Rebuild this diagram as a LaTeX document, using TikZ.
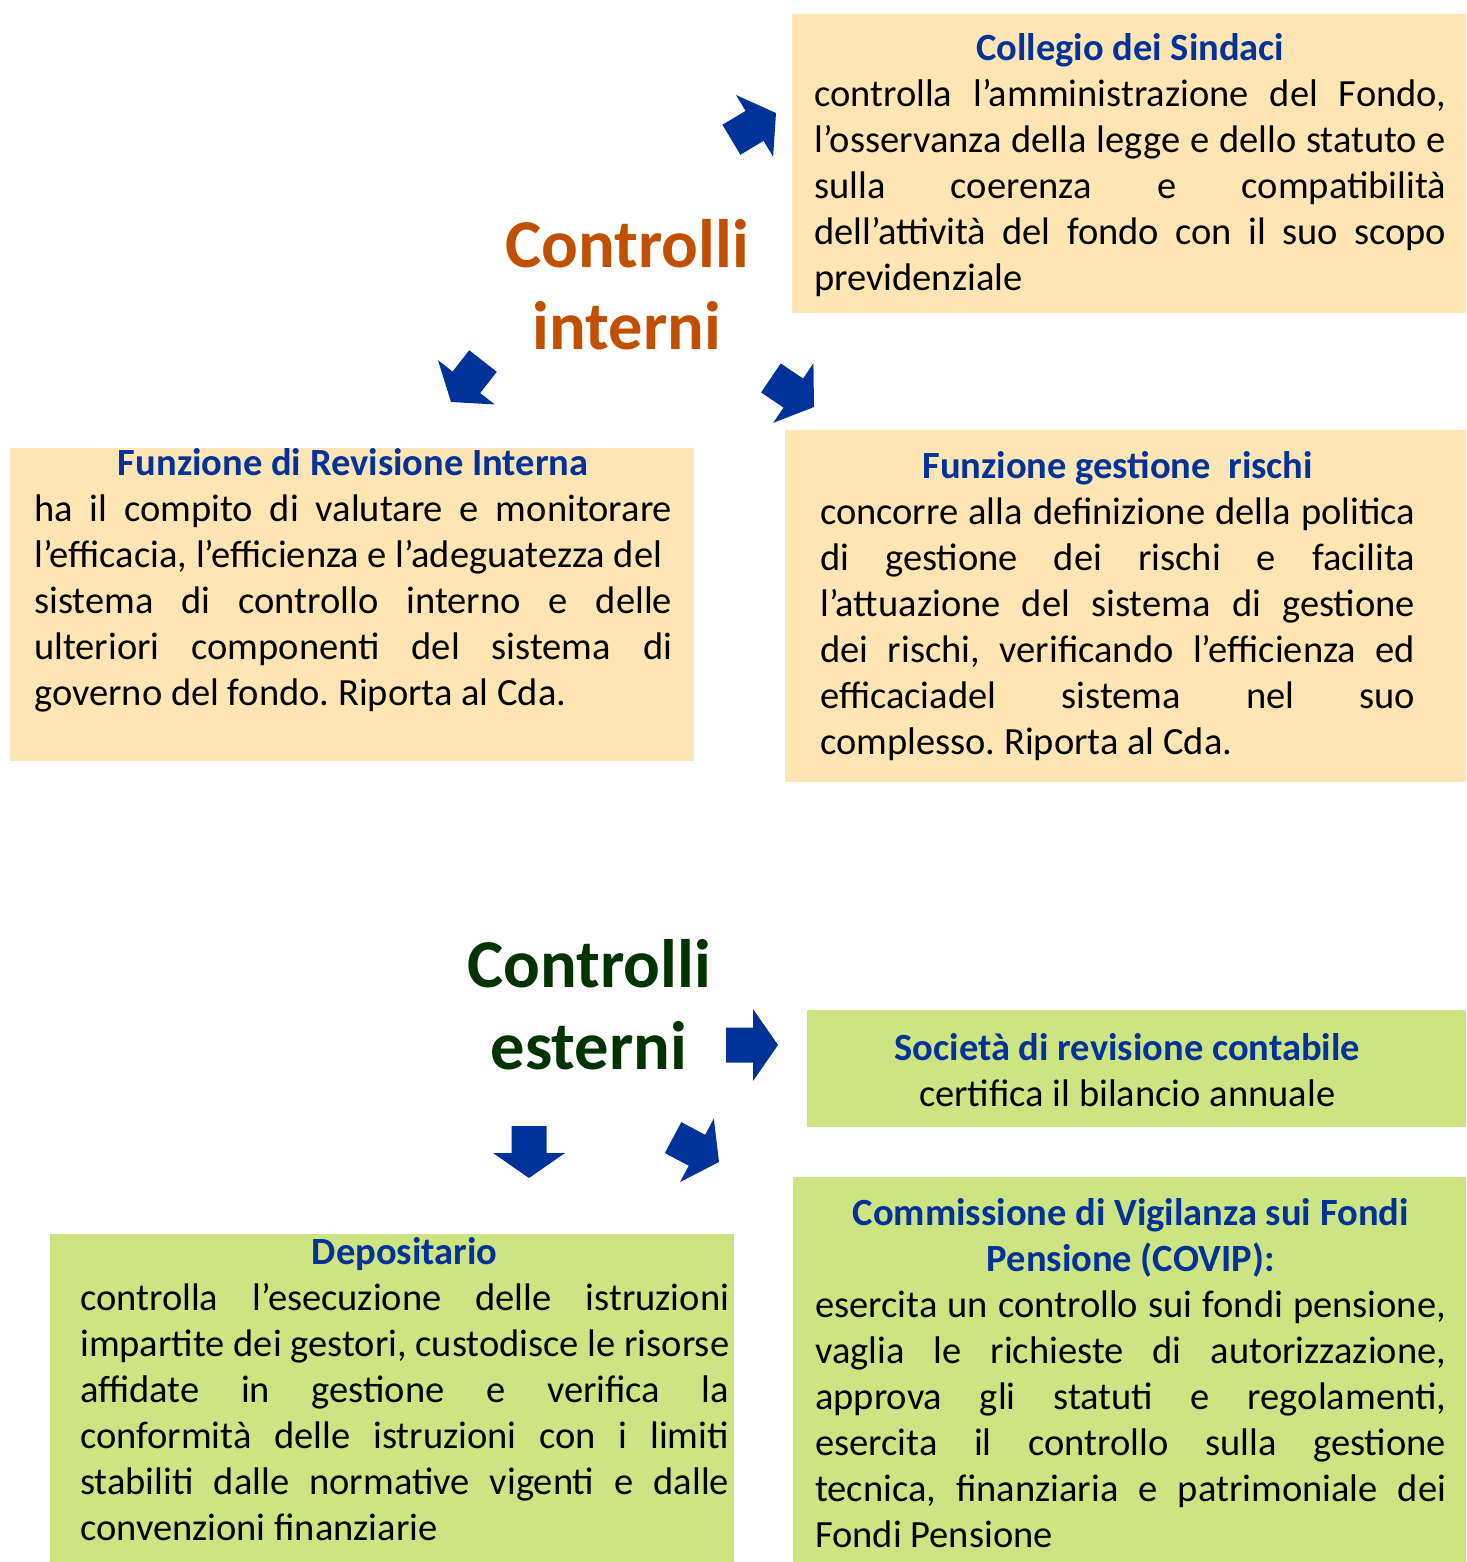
\documentclass[tikz,border=0pt]{standalone}
\usepackage{fontspec}
\setmainfont{Carlito}
\usetikzlibrary{positioning}
\definecolor{FondoBlue}{RGB}{0,51,153}
\definecolor{FondoPeach}{RGB}{255,229,180}
\definecolor{FondoLime}{RGB}{206,228,130}
\definecolor{InterniOrange}{RGB}{192,80,0}
\definecolor{EsterniGreen}{RGB}{0,51,0}
\frenchspacing
\newcommand{\boxhead}[1]{{\centering\leavevmode\strut\textcolor{FondoBlue}{\bfseries #1}\par}}

\begin{document}
\begin{tikzpicture}[x=1pt,y=1pt,
  peachbox/.style={fill=FondoPeach,anchor=north west,inner sep=0pt},
  limebox/.style={fill=FondoLime,anchor=north west,inner sep=0pt},
  bodytxt/.style={anchor=north west,inner sep=0pt,align=justify,font=\fontsize{38.5}{46}\selectfont},
  bigtitle/.style={anchor=north,inner sep=0pt,align=center,font=\fontsize{68.5}{82}\selectfont\bfseries},
  blkarrow/.pic={\fill[FondoBlue] (0,0) -- (-25,36) -- (-25,17.5) -- (-52,17.5) -- (-52,-17.5) -- (-25,-17.5) -- (-25,-36) -- cycle;}]
\useasboundingbox (0,0) rectangle (1466,-1562);

% controlli interni
\node[bigtitle,text=InterniOrange] (interni) at (627,-210) {\strut Controlli\\interni};

\node[peachbox,minimum width=674pt,minimum height=299pt] (sindacibox) at (792,-14) {};
\node[bodytxt,text width=632pt] (sindaci) at (814,-27.8) {\boxhead{Collegio dei Sindaci}
controlla l’amministrazione del Fondo,\linebreak
l’osservanza della legge e dello statuto e\linebreak
sulla coerenza e compatibilità\linebreak
dell’attività del fondo con il suo scopo\linebreak
previdenziale};

\node[peachbox,minimum width=684pt,minimum height=313pt] (revisionebox) at (10,-448) {};
\node[bodytxt,text width=638pt] (revisione) at (34,-442.8) {\boxhead{Funzione di Revisione Interna}
ha il compito di valutare e monitorare\linebreak
l’efficacia, l’efficienza e l’adeguatezza del\newline
sistema di controllo interno e delle\linebreak
ulteriori componenti del sistema di\linebreak
governo del fondo. Riporta al Cda.};

\node[peachbox,minimum width=681pt,minimum height=352pt] (rischibox) at (785,-430) {};
\node[bodytxt,text width=595pt] (rischi) at (820,-445.8) {\boxhead{Funzione gestione\ \ rischi}
concorre alla definizione della politica\linebreak
di gestione dei rischi e facilita\linebreak
l’attuazione del sistema di gestione\linebreak
dei rischi, verificando l’efficienza ed\linebreak
efficaciadel sistema nel suo\linebreak
complesso. Riporta al Cda.};

\pic[rotate=31] at (776,-113) {blkarrow};
\pic[rotate=232] at (451,-402) {blkarrow};
\pic[rotate=-34] at (814,-407) {blkarrow};

% controlli esterni
\node[bigtitle,text=EsterniGreen] (esterni) at (589,-930) {\strut Controlli\\esterni};

\node[limebox,minimum width=659pt,minimum height=117pt] (societabox) at (807,-1010) {};
\node[bodytxt,text width=640pt] (societa) at (807,-1027.8) {\boxhead{Società di revisione contabile}
{\centering certifica il bilancio annuale\par}};

\node[limebox,minimum width=673pt,minimum height=385pt] (covipbox) at (793,-1177) {};
\node[bodytxt,text width=631pt] (covip) at (815,-1192.8) {\boxhead{Commissione di Vigilanza sui Fondi\linebreak Pensione (COVIP):}
esercita un controllo sui fondi pensione,\linebreak
vaglia le richieste di autorizzazione,\linebreak
approva gli statuti e regolamenti,\linebreak
esercita il controllo sulla gestione\linebreak
tecnica, finanziaria e patrimoniale dei\linebreak
Fondi Pensione};

\node[limebox,minimum width=684pt,minimum height=328pt] (depositariobox) at (50,-1234) {};
\node[bodytxt,text width=649pt] (depositario) at (80,-1231.8) {\boxhead{Depositario}
controlla l’esecuzione delle istruzioni\linebreak
impartite dei gestori, custodisce le risorse\linebreak
affidate in gestione e verifica la\linebreak
conformità delle istruzioni con i limiti\linebreak
stabiliti dalle normative vigenti e dalle\linebreak
convenzioni finanziarie};

\pic at (778,-1045) {blkarrow};
\pic[rotate=-90] at (529,-1178) {blkarrow};
\pic[rotate=-28] at (719,-1162) {blkarrow};
\end{tikzpicture}
\end{document}
